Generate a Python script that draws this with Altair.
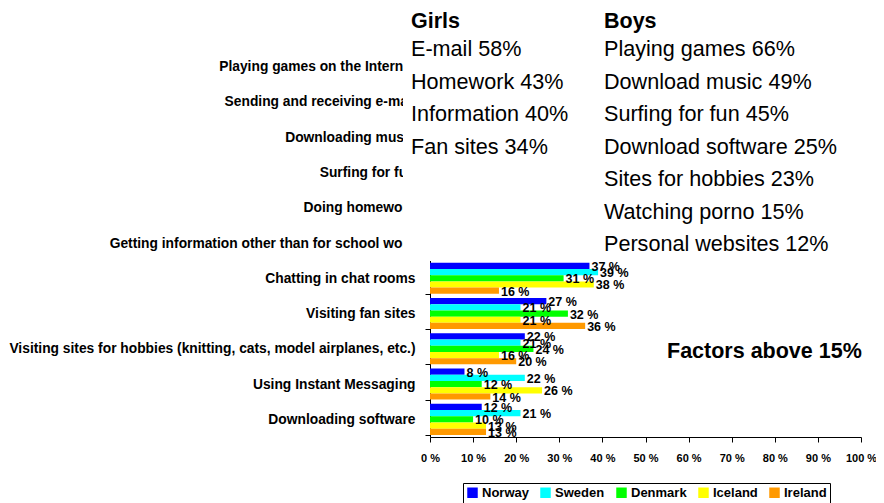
import altair as alt
import pandas as pd

categories = [
    "Playing games on the Internet",
    "Sending and receiving e-mail",
    "Downloading music",
    "Surfing for fun",
    "Doing homework",
    "Getting information other than for school work",
    "Chatting in chat rooms",
    "Visiting fan sites",
    "Visiting sites for hobbies (knitting, cats, model airplanes, etc.)",
    "Using Instant Messaging",
    "Downloading software",
]
countries = ["Norway", "Sweden", "Denmark", "Iceland", "Ireland"]
colors = ["#0000FF", "#00FFFF", "#00FF00", "#FFFF00", "#FF9900"]

# first six categories are hidden behind the text box in the picture (estimates)
norway = [45, 50, 40, 38, 35, 30, 37, 27, 22, 8, 12]
sweden = [44, 47, 36, 40, 32, 34, 39, 21, 21, 22, 21]
denmark = [50, 42, 38, 43, 38, 36, 31, 32, 24, 12, 10]
iceland = [47, 48, 42, 44, 36, 33, 38, 21, 16, 26, 13]
ireland = [38, 44, 32, 35, 34, 29, 16, 36, 20, 14, 13]
visible_from = 6  # categories from this index on are not covered by the text box

x_ticks = [0, 10, 20, 30, 40, 50, 60, 70, 80, 90, 100]

girls_title = "Girls"
girls_lines = ["E-mail 58%", "Homework 43%", "Information 40%", "Fan sites 34%"]
boys_title = "Boys"
boys_lines = [
    "Playing games 66%",
    "Download music 49%",
    "Surfing for fun 45%",
    "Download software 25%",
    "Sites for hobbies 23%",
    "Watching porno 15%",
    "Personal websites 12%",
]
note_text = "Factors above 15%"

rows = []
for i, cat in enumerate(categories):
    for country, vals in zip(countries, [norway, sweden, denmark, iceland, ireland]):
        rows.append({"activity": cat, "country": country, "pct": vals[i],
                     "label": f"{vals[i]} %", "shown": i >= visible_from})
df = pd.DataFrame(rows)

W, H = 431, 388
FONT = "Liberation Sans"

y_enc = alt.Y("activity:N", sort=categories, title=None,
              scale=alt.Scale(domain=categories, paddingInner=0.12, paddingOuter=0.06),
              axis=alt.Axis(tickBand="extent", labelFontSize=13.8, labelFontWeight="bold",
                            labelFont=FONT, labelColor="black", tickColor="black",
                            domainColor="black", tickSize=5, labelPadding=10,
                            labelLimit=0, labelOverlap=False))
x_enc = alt.X("pct:Q", title=None,
              scale=alt.Scale(domain=[0, 100], nice=False),
              axis=alt.Axis(values=x_ticks, labelExpr="datum.value + ' %'",
                            labelFontSize=11, labelFontWeight="bold", labelFont=FONT,
                            labelColor="black", tickColor="black", domainColor="black",
                            tickSize=5, labelPadding=10, grid=False,
                            labelOverlap=False, labelFlush=False))
yoff = alt.YOffset("country:N", sort=countries, scale=alt.Scale(domain=countries, paddingInner=0))

bars = alt.Chart(df).mark_bar().encode(
    x=x_enc, y=y_enc, yOffset=yoff,
    color=alt.Color("country:N", sort=countries,
                    scale=alt.Scale(domain=countries, range=colors),
                    legend=alt.Legend(title=None, orient="none", legendX=33, legendY=434,
                                      direction="horizontal", symbolType="square",
                                      symbolSize=110, symbolStrokeWidth=0,
                                      labelFontSize=13, labelFontWeight="bold",
                                      labelFont=FONT, labelColor="black",
                                      strokeColor="black", padding=3,
                                      columnPadding=10, labelOffset=3)),
)

labels = alt.Chart(df).transform_filter("datum.shown").mark_text(
    align="left", baseline="middle", dx=2, dy=1,
    fontSize=12.5, fontWeight="bold", font=FONT, color="black").encode(
    x="pct:Q", y=alt.Y("activity:N", sort=categories), yOffset=yoff, text="label:N")

one = pd.DataFrame({"k": [0]})
box = alt.Chart(one).mark_rect(color="white").encode(
    x=alt.value(-27), x2=alt.value(442), y=alt.value(-60), y2=alt.value(212))

texts = []
def add_text(t, xp, yp, bold, size):
    texts.append(alt.Chart(one).mark_text(
        text=t, align="left", baseline="alphabetic", fontSize=size,
        fontWeight="bold" if bold else "normal", font=FONT, color="black"
    ).encode(x=alt.value(xp), y=alt.value(yp)))

top0 = 49
add_text(girls_title, 411 - 430, 28 - top0, True, 21.5)
add_text(boys_title, 604 - 430, 28 - top0, True, 21.5)
for i, t in enumerate(girls_lines):
    add_text(t, 411 - 430, 56 + i * 32.5 - top0, False, 21.6)
for i, t in enumerate(boys_lines):
    add_text(t, 604 - 430, 56 + i * 32.5 - top0, False, 21.6)
add_text(note_text, 667 - 430, 358 - top0, True, 21.5)

chart = alt.layer(bars, labels, box, *texts).properties(
    width=W, height=H,
    autosize=alt.AutoSizeParams(type="none"),
    padding={"left": 422, "top": 41, "right": 15, "bottom": 74},
).configure_view(stroke=None)

chart.save("out.html", embed_options={"renderer": "svg", "actions": False})
